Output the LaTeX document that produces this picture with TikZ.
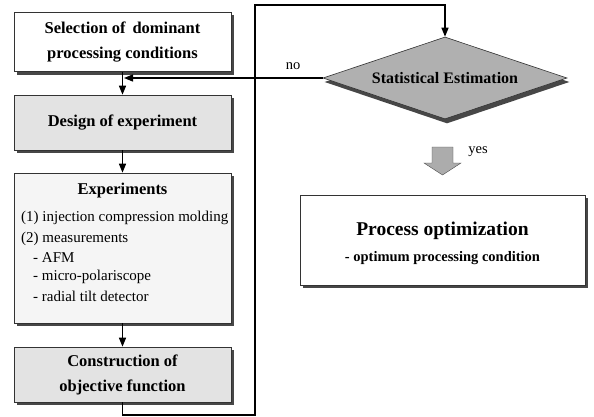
\documentclass[tikz,border=0pt]{standalone}
\usepackage{fontspec}
\setmainfont{Liberation Serif}
\usetikzlibrary{shapes.geometric,arrows.meta,backgrounds}
\tikzset{
  box/.style={draw=black!80, line width=0.6pt, rectangle, minimum width=217pt, inner sep=0pt},
  shade/.style={fill=black!72},
  conn/.style={line width=1.4pt, black},
  arr/.style={conn, -{Triangle[length=9pt,width=7pt]}},
  bigb/.style={font=\fontsize{16.5}{25}\selectfont\bfseries, align=center},
  reg/.style={font=\fontsize{15}{20}\selectfont, anchor=west, inner sep=0pt},
}
\begin{document}
\begin{tikzpicture}[x=1pt,y=-1pt]
\useasboundingbox (0,0) rectangle (594,417);

% boxes
\node[box, fill=white, minimum height=59pt, bigb] (b1) at (122.5,42) {Selection of\, dominant\\processing conditions};
\node[box, fill=gray!22, minimum height=55pt, bigb] (b2) at (122.5,122.5) {Design of experiment};
\node[box, fill=gray!8, minimum height=150pt] (b3) at (122.5,248) {};
\node[box, fill=gray!22, minimum height=55pt, bigb] (b4) at (122.5,374.5) {Construction of\\objective function};

% experiments text
\node[font=\fontsize{16.5}{20}\selectfont\bfseries, inner sep=0pt] (e0) at (122.5,191) {Experiments};
\node[reg] (e1) at (21,218) {(1) injection compression molding};
\node[reg] (e2) at (21,239) {(2) measurements};
\node[reg] (e3) at (33,258) {- AFM};
\node[reg] (e4) at (33,277) {- micro-polariscope};
\node[reg] (e5) at (33,296) {- radial tilt detector};

% diamond
\node[diamond, draw=black!80, line width=0.6pt, fill=gray!62, aspect=2.97, minimum width=244pt, minimum height=82pt, inner sep=0pt,
      font=\fontsize{16}{18}\selectfont\bfseries] (d) at (445,78) {Statistical Estimation};

% process optimization
\node[box, fill=white, minimum width=285pt, minimum height=90pt] (p) at (442.5,240) {};
\node[font=\fontsize{19.5}{22}\selectfont\bfseries, inner sep=0pt] (p1) at (442.5,231) {Process optimization};
\node[font=\fontsize{14.5}{16}\selectfont\bfseries, inner sep=0pt] (p2) at (442.5,258) {- optimum processing condition};

% yes block arrow
\fill[gray!65, draw=black!70, line width=0.4pt] (432,147) -- (453,147) -- (453,163) -- (461,163) -- (442.5,175) -- (424,163) -- (432,163) -- cycle;
\node[font=\fontsize{14.5}{16}\selectfont, inner sep=0pt] (yes) at (478,152) {yes};
\node[font=\fontsize{14.5}{16}\selectfont, inner sep=0pt] (no) at (293,66) {no};

% shadows
\begin{pgfonlayer}{background}
\fill[white] (0,0) rectangle (594,417);
\foreach \n in {b1,b2,b3,b4,p}
  \fill[shade] ([shift={(3,3)}]\n.north west) rectangle ([shift={(3,3)}]\n.south east);
\fill[shade] ([shift={(2,4)}]d.north) -- ([shift={(2,4)}]d.east) -- ([shift={(2,4)}]d.south) -- ([shift={(2,4)}]d.west) -- cycle;
\end{pgfonlayer}

% connectors
\draw[arr] (b1.south) -- (b2.north);
\draw[arr] (b2.south) -- (b3.north);
\draw[arr] (b3.south) -- (b4.north);
\coordinate (j) at (124,78);
\draw[arr] (d.west) -- (j);
\coordinate (c1) at (122.5,415);
\coordinate (c2) at (255,415);
\coordinate (c3) at (255,5);
\draw[arr] (b4.south) -- (c1) -- (c2) -- (c3) -| (d.north);
\end{tikzpicture}
\end{document}
